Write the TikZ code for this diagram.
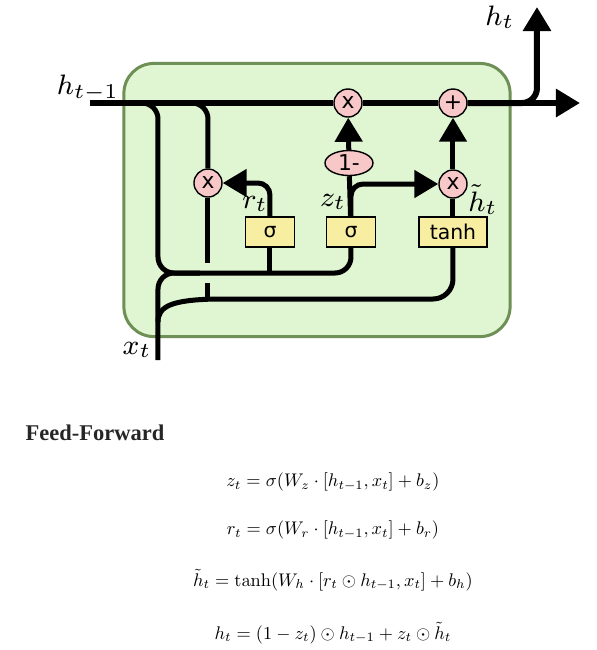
\documentclass[tikz,border=0pt]{standalone}
\usepackage[no-math]{fontspec}
\newfontfamily\headfont{Liberation Serif}
\newfontfamily\opfont{DejaVu Sans}
\usetikzlibrary{arrows.meta, positioning, shapes.geometric}
\definecolor{cellfill}{HTML}{E0F5D2}
\definecolor{celledge}{HTML}{6E8F55}
\definecolor{opfill}{HTML}{F8C8C8}
\definecolor{gatefill}{HTML}{F8EEA2}
\tikzset{
wire/.style={line width=0.05cm}, % connections inside the cell
bus/.style={line width=0.06cm}, % the hidden state line
tip/.style={-{Triangle[length=0.24cm,width=0.27cm]}}, % big filled arrow heads
op/.style={circle, draw, thin, fill=opfill, inner sep=0pt, minimum size=0.28cm, font=\opfont\fontsize{6.2}{7}\selectfont}, % pointwise operations
gate/.style={rectangle, draw, thin, fill=gatefill, inner sep=0pt, minimum width=0.49cm, minimum height=0.30cm, font=\opfont\fontsize{5.8}{6}\selectfont}, % layers
lbl/.style={font=\fontsize{8.5}{10}\selectfont},
eqn/.style={scale=0.52}, % formulas set at 10pt, then shrunk
}

\begin{document}
\begin{tikzpicture}[x=0.01cm, y=-0.01cm]

\fill[white] (0,0) rectangle (597,650);
\useasboundingbox (0,0) rectangle (597,650);

% the cell
\node[draw=celledge, line width=0.03cm, fill=cellfill, rounded corners=0.3cm, minimum width=3.86cm, minimum height=2.73cm] (cell) at (317,200) {};

\node[op] (mulz) at (348,103) {x};
\node[op] (add) at (453,103) {+};
\node[op, ellipse, minimum width=0.48cm, minimum height=0.25cm] (omz) at (349,163) {1-};
\node[op] (mulr) at (208,183) {x};
\node[op] (mulh) at (453,184) {x};
\node[gate] (rgate) at (270,232) {σ};
\node[gate] (zgate) at (351,232) {σ};
\node[gate, minimum width=0.68cm] (tgate) at (453,232) {tanh};

\coordinate (hin) at (90,103);
\coordinate (hout) at (580,103);
\coordinate (hup) at (537,7);
\coordinate (xin) at (158,360);
\coordinate (br1) at (140,103);
\coordinate (br2) at (190,103);
\coordinate (jn) at (158,273);
\coordinate (jr) at (200,273);
\coordinate (gapT) at (208,263);
\coordinate (gapB) at (208,283);
\coordinate (lowT) at (208,300);
\coordinate (xb) at (158,322);
\coordinate (lowj) at (215,299);

% hidden state
\draw[bus] (hin) -- (mulz);
\draw[bus] (mulz) -- (add);
\draw[bus, tip] (add) -- (hout);
\draw[bus, tip, rounded corners=0.15cm] (add) -| (hup);

% inputs
\draw[wire, rounded corners=0.16cm] (br1) -| (jn) -| (zgate);
\draw[wire, rounded corners=0.16cm] (xin) |- (jr);
\draw[wire] (rgate) -- (rgate |- jn);
\draw[wire, rounded corners=0.16cm] (br2) -| (mulr);
\draw[wire] (mulr) -- (gapT);
\draw[wire] (gapB) -- (lowT);
\draw[wire] (xb) .. controls (158,306) and (172,300) .. (lowj);
\draw[wire, rounded corners=0.2cm] (lowj) -| (tgate);

% gates
\draw[wire, tip, rounded corners=0.12cm] (rgate) |- (mulr);
\draw[wire] (zgate) -- (omz);
\draw[wire, tip] (omz) -- (mulz);
\draw[wire, tip, rounded corners=0.12cm] (zgate) |- (mulh);
\draw[wire] (tgate) -- (mulh);
\draw[wire, tip] (mulh) -- (add);

\node[lbl] (hprev) at (88,88) {$h_{t-1}$};
\node[lbl] (hnext) at (500,17) {$h_t$};
\node[lbl] (xlab) at (137,350) {$x_t$};
\node[lbl] (rlab) at (255,204) {$r_t$};
\node[lbl] (zlab) at (333,202) {$z_t$};
\node[lbl] (hlab) at (483,200) {$\tilde{h}_t$};

% equations
\node[anchor=west, inner sep=0pt, text=black!85, font=\headfont\bfseries\fontsize{6.4}{8}\selectfont] (head) at (25,433) {Feed-Forward};
\node[eqn] (eqz) at (333,482) {$z_t = \sigma(W_z \cdot [h_{t-1}, x_t] + b_z)$};
\node[eqn] (eqr) at (333,530) {$r_t = \sigma(W_r \cdot [h_{t-1}, x_t] + b_r)$};
\node[eqn] (eqh) at (333,580) {$\tilde{h}_t = \tanh(W_h \cdot [r_t \odot h_{t-1}, x_t] + b_h)$};
\node[eqn] (eqo) at (333,633) {$h_t = (1 - z_t) \odot h_{t-1} + z_t \odot \tilde{h}_t$};

\end{tikzpicture}
\end{document}
